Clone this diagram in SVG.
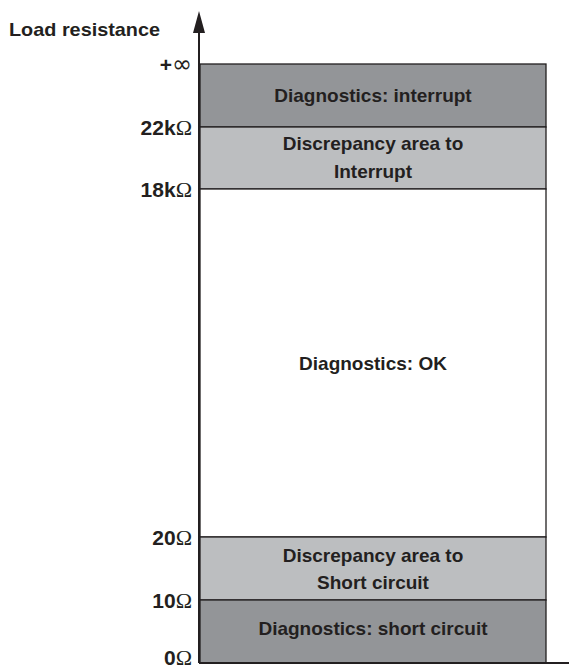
<svg xmlns="http://www.w3.org/2000/svg" width="569" height="671" viewBox="0 0 569 671">
<style>
.t{font-family:"Liberation Sans",Arial,sans-serif;font-weight:bold;fill:#231f20}
.c{font-size:19px;text-anchor:middle}
.lab{font-size:21px;text-anchor:end}
.om{font-family:"Liberation Serif","Times New Roman",serif;font-weight:normal;font-size:22px}
.inf{font-family:"DejaVu Sans",sans-serif;font-weight:normal;font-size:24px}
.dark{fill:#939598;stroke:#231f20;stroke-width:1.3}
.light{fill:#bcbec0;stroke:#231f20;stroke-width:1.3}
.white{fill:#ffffff;stroke:#231f20;stroke-width:1.3}
.ax{stroke:#231f20;stroke-width:2;fill:none}
</style>
<rect width="569" height="671" fill="#ffffff"/>
<g id="band-interrupt">
<rect class="dark" x="200" y="64" width="346" height="63"/>
<text class="t c" x="373" y="102">Diagnostics: interrupt</text>
</g>
<g id="band-disc-interrupt">
<rect class="light" x="200" y="127" width="346" height="62"/>
<text class="t c" x="373" y="150">Discrepancy area to</text>
<text class="t c" x="373" y="178">Interrupt</text>
</g>
<g id="band-ok">
<rect class="white" x="200" y="189" width="346" height="348"/>
<text class="t c" x="373" y="370">Diagnostics: OK</text>
</g>
<g id="band-disc-short">
<rect class="light" x="200" y="537" width="346" height="63"/>
<text class="t c" x="373" y="562">Discrepancy area to</text>
<text class="t c" x="373" y="589">Short circuit</text>
</g>
<g id="band-short">
<rect class="dark" x="200" y="600" width="346" height="63"/>
<text class="t c" x="373" y="635">Diagnostics: short circuit</text>
</g>
<g id="axes">
<line class="ax" x1="199" y1="30" x2="199" y2="663"/>
<line class="ax" x1="199" y1="663" x2="569" y2="663"/>
<polygon points="199,11 193,33 205,33" fill="#231f20"/>
</g>
<g id="labels">
<text class="t" x="9" y="36" font-size="19" textLength="151" lengthAdjust="spacingAndGlyphs">Load resistance</text>
<text class="t lab" x="192" y="72">+<tspan class="inf">∞</tspan></text>
<text class="t lab" x="192" y="135">22k<tspan class="om">Ω</tspan></text>
<text class="t lab" x="192" y="197">18k<tspan class="om">Ω</tspan></text>
<text class="t lab" x="192" y="545">20<tspan class="om">Ω</tspan></text>
<text class="t lab" x="192" y="608">10<tspan class="om">Ω</tspan></text>
<text class="t lab" x="192" y="665">0<tspan class="om">Ω</tspan></text>
</g>
</svg>
